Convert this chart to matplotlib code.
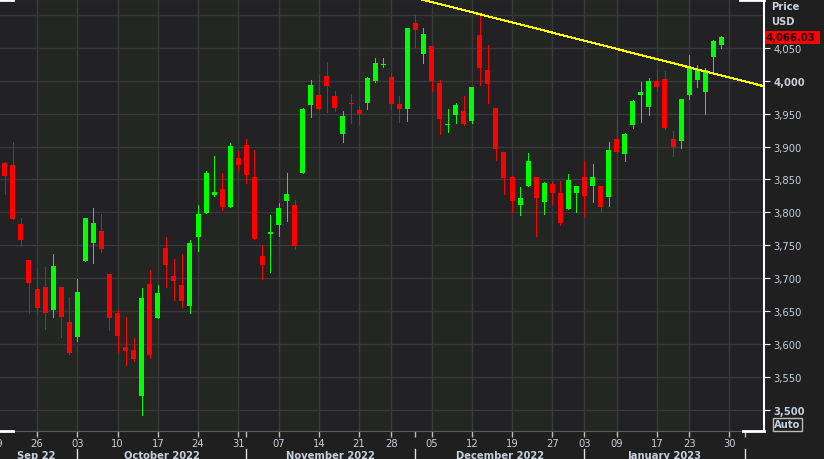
import matplotlib
matplotlib.use("Agg")
import matplotlib.pyplot as plt
import matplotlib.transforms as mtransforms
from matplotlib.patches import Rectangle
from matplotlib.lines import Line2D
import numpy as np
import pandas as pd

# S&P 500 daily candles, Sep 19 2022 - Jan 27 2023 (last one intraday)
dates = [
    "2022-09-19", "2022-09-20", "2022-09-21", "2022-09-22", "2022-09-23",
    "2022-09-26", "2022-09-27", "2022-09-28", "2022-09-29", "2022-09-30",
    "2022-10-03", "2022-10-04", "2022-10-05", "2022-10-06", "2022-10-07",
    "2022-10-10", "2022-10-11", "2022-10-12", "2022-10-13", "2022-10-14",
    "2022-10-17", "2022-10-18", "2022-10-19", "2022-10-20", "2022-10-21",
    "2022-10-24", "2022-10-25", "2022-10-26", "2022-10-27", "2022-10-28",
    "2022-10-31", "2022-11-01", "2022-11-02", "2022-11-03", "2022-11-04",
    "2022-11-07", "2022-11-08", "2022-11-09", "2022-11-10", "2022-11-11",
    "2022-11-14", "2022-11-15", "2022-11-16", "2022-11-17", "2022-11-18",
    "2022-11-21", "2022-11-22", "2022-11-23", "2022-11-25",
    "2022-11-28", "2022-11-29", "2022-11-30", "2022-12-01", "2022-12-02",
    "2022-12-05", "2022-12-06", "2022-12-07", "2022-12-08", "2022-12-09",
    "2022-12-12", "2022-12-13", "2022-12-14", "2022-12-15", "2022-12-16",
    "2022-12-19", "2022-12-20", "2022-12-21", "2022-12-22", "2022-12-23",
    "2022-12-27", "2022-12-28", "2022-12-29", "2022-12-30",
    "2023-01-03", "2023-01-04", "2023-01-05", "2023-01-06",
    "2023-01-09", "2023-01-10", "2023-01-11", "2023-01-12", "2023-01-13",
    "2023-01-17", "2023-01-18", "2023-01-19", "2023-01-20",
    "2023-01-23", "2023-01-24", "2023-01-25", "2023-01-26", "2023-01-27",
]
opens = [
    3849.91, 3875.23, 3871.40, 3782.36, 3727.14, 3682.72, 3686.44, 3651.94, 3687.01, 3633.48,
    3609.78, 3726.46, 3753.25, 3771.97, 3706.74, 3647.51, 3595.86, 3590.83, 3520.37, 3690.41,
    3638.65, 3746.26, 3703.11, 3689.05, 3657.10, 3762.01, 3799.44, 3825.97, 3834.69, 3808.26,
    3881.85, 3901.79, 3852.90, 3733.25, 3766.98, 3780.71, 3817.02, 3810.94, 3859.89, 3963.72,
    3977.97, 4006.41, 3976.82, 3919.26, 3966.39, 3956.23, 3965.51, 4000.30, 4023.34,
    4005.36, 3964.19, 3957.18, 4087.14, 4040.17, 4052.02, 3996.63, 3933.28, 3947.79, 3954.17,
    3939.29, 4069.38, 4015.54, 3958.37, 3890.91, 3853.79, 3810.47, 3839.49, 3853.26, 3815.11,
    3843.34, 3829.56, 3805.45, 3829.06, 3853.29, 3840.36, 3839.74, 3823.37,
    3910.82, 3888.57, 3932.35, 3977.57, 3960.60, 3999.28, 4002.25, 3911.84, 3909.04,
    3978.14, 4001.74, 3982.71, 4036.08, 4053.72,
]
highs = [
    3900.45, 3876.01, 3907.07, 3790.78, 3727.14, 3715.67, 3717.53, 3736.74, 3687.01, 3671.44,
    3698.35, 3791.92, 3806.91, 3797.93, 3706.74, 3652.17, 3640.66, 3608.34, 3685.41, 3712.00,
    3689.73, 3762.79, 3728.58, 3736.00, 3757.89, 3810.74, 3862.85, 3886.15, 3859.95, 3905.42,
    3893.73, 3911.79, 3894.44, 3750.59, 3796.34, 3813.95, 3859.40, 3818.20, 3958.33, 4001.48,
    4008.97, 4028.84, 3983.96, 3954.33, 3979.89, 3962.00, 4005.88, 4033.78, 4034.02,
    4012.27, 3976.77, 4080.11, 4100.51, 4080.48, 4052.45, 4001.51, 3957.57, 3966.64, 3977.02,
    3990.71, 4100.96, 4053.76, 3958.37, 3890.91, 3854.86, 3838.24, 3889.82, 3853.26, 3845.80,
    3846.65, 3848.32, 3858.19, 3839.85, 3878.46, 3873.16, 3839.74, 3906.19,
    3950.57, 3919.83, 3970.07, 3997.76, 4003.95, 4015.39, 4014.16, 3922.94, 3972.96,
    4039.31, 4023.92, 4019.55, 4061.57, 4068.00,
]
lows = [
    3838.50, 3827.54, 3789.49, 3749.45, 3647.47, 3644.76, 3623.29, 3640.61, 3610.40, 3584.13,
    3604.93, 3726.46, 3722.66, 3739.22, 3620.73, 3588.10, 3568.45, 3573.86, 3491.58, 3578.27,
    3638.65, 3686.53, 3666.51, 3656.53, 3647.42, 3741.65, 3799.44, 3824.07, 3803.79, 3808.26,
    3863.18, 3843.80, 3758.68, 3698.15, 3708.84, 3764.70, 3786.28, 3744.22, 3859.89, 3944.82,
    3956.40, 3953.17, 3954.34, 3906.54, 3935.98, 3933.34, 3956.88, 3998.66, 4020.76,
    3955.77, 3937.65, 3938.58, 4050.87, 4026.63, 3984.49, 3918.39, 3922.68, 3935.83, 3933.04,
    3935.30, 3993.03, 3965.65, 3879.45, 3827.91, 3800.04, 3795.62, 3839.49, 3764.49, 3797.01,
    3813.22, 3780.78, 3805.45, 3800.34, 3794.33, 3815.77, 3802.42, 3809.56,
    3890.42, 3877.29, 3928.54, 3937.56, 3947.67, 3984.57, 3926.59, 3885.54, 3897.86,
    3971.64, 3989.79, 3949.06, 4013.29, 4049.27,
]
closes = [
    3899.89, 3855.93, 3789.93, 3757.99, 3693.23, 3655.04, 3647.29, 3719.04, 3640.47, 3585.62,
    3678.43, 3790.93, 3783.28, 3744.52, 3639.66, 3612.39, 3588.84, 3577.03, 3669.91, 3583.07,
    3677.95, 3719.98, 3695.16, 3665.78, 3752.75, 3797.34, 3859.11, 3830.60, 3807.30, 3901.06,
    3871.98, 3856.10, 3759.69, 3719.89, 3770.55, 3806.80, 3828.11, 3748.57, 3956.37, 3992.93,
    3957.25, 3991.73, 3958.79, 3946.56, 3965.34, 3949.94, 4003.58, 4027.26, 4026.12,
    3963.94, 3957.63, 4080.11, 4076.57, 4071.70, 3998.84, 3941.26, 3933.92, 3963.51, 3934.38,
    3990.56, 4019.65, 3995.32, 3895.75, 3852.36, 3817.66, 3821.62, 3878.44, 3822.39, 3844.82,
    3829.25, 3783.22, 3849.28, 3839.50, 3824.14, 3852.97, 3808.10, 3895.08,
    3892.09, 3919.25, 3969.61, 3983.17, 3999.09, 3990.97, 3928.86, 3898.85, 3972.61,
    4019.81, 4016.95, 4016.22, 4060.43, 4066.03,
]
holidays = ["2022-11-24", "2022-12-26", "2023-01-02", "2023-01-16"]
last_price = 4066.03
trend_dates = ["2022-11-30", "2023-02-03"]
trend_prices = [4129.0, 3992.5]
price_ticks = list(range(3500, 4051, 50))
bold_ticks = [3500, 4000]

BG = "#222224"
BAND = "#242623"
GRID = "#393939"
TXT = "#c6cfdc"
UP, DOWN = "#00ff00", "#ff0000"
FS = 7.2
ONE_PX = 0.72  # points for a 1 px line at 100 dpi

plt.rcParams["font.family"] = "DejaVu Sans"

# trading-day axis (no weekends / holidays), a week past the data
cal = pd.bdate_range("2022-09-19", "2023-02-03", freq="C", holidays=holidays)
pos = {d.strftime("%Y-%m-%d"): i for i, d in enumerate(cal)}
x = np.array([pos[d] for d in dates])
o, h, l, c = map(np.array, (opens, highs, lows, closes))

week_start = [i for i, d in enumerate(cal)
              if i == 0 or d.isocalendar()[1] != cal[i - 1].isocalendar()[1]]
month_start = [i for i, d in enumerate(cal) if i > 0 and d.month != cal[i - 1].month]

fig = plt.figure(figsize=(8.24, 4.6), dpi=100, facecolor="#1f1f1f")
ax = fig.add_axes([0, 1 - 432 / 460, 764 / 824, 432 / 460], facecolor=BG)
x0, x1 = 0.4, 95.3
ax.set_xlim(x0, x1)
ax.set_ylim(3467.6, 4124.2)

# alternate week shading
for k in range(1, len(week_start) - 1, 2):
    ax.axvspan(week_start[k], week_start[k + 1], color=BAND, lw=0, zorder=0)

for xi in week_start:
    ax.axvline(xi, color=GRID, lw=1, zorder=1)
for p in price_ticks + [4100]:
    ax.axhline(p, color=GRID, lw=1, zorder=1)

# candles
up = c >= o
cols = np.where(up, UP, DOWN)
ax.vlines(x, l, h, colors=cols, lw=ONE_PX, zorder=3, antialiased=False)
body_lo = np.minimum(o, c)
body_h = np.maximum(np.abs(c - o), 1.5)
ax.bar(x, body_h, 0.62, bottom=body_lo, color=cols, lw=0, zorder=4, antialiased=False)

ax.plot([pos[d] for d in trend_dates], trend_prices, color="#ffff00", lw=ONE_PX, zorder=5,
        antialiased=False)

# y axis on the right
ax.yaxis.tick_right()
ax.set_yticks(price_ticks)
ax.set_yticklabels([f"{p:,}" for p in price_ticks])
ax.tick_params(axis="y", colors="white", labelcolor=TXT, labelsize=FS, length=4, pad=3)
for t, p in zip(ax.get_yticklabels(), price_ticks):
    if p in bold_ticks:
        t.set_fontweight("bold")

# x axis: weekly ticks, month ticks
vis_weeks = [i for i in week_start if x0 <= i <= x1]
ax.set_xticks(vis_weeks)
ax.set_xticklabels([])
ax.set_xticks([i for i in month_start if x0 <= i <= x1], minor=True)
ax.tick_params(axis="x", which="both", colors="#bbbbbb", length=4, width=1)

ax.spines["left"].set_visible(False)
ax.spines["right"].set_color("white")
ax.spines["right"].set_linewidth(1.5)
ax.spines["bottom"].set_color("#5a5a5a")
ax.spines["top"].set_color("#505050")

tx = mtransforms.blended_transform_factory(ax.transData, fig.transFigure)
for i in week_start:
    ax.text(i, 1 - 447 / 460, f"{cal[i].day:02d}", transform=tx, color=TXT,
            fontsize=FS, ha="center", va="baseline", clip_on=False)

month_names = ["Sep 22", "October 2022", "November 2022", "December 2022", "January 2023"]
edges = [x0 - 0.6] + month_start
for k, name in enumerate(month_names):
    mid = (edges[k] + edges[k + 1]) / 2
    ax.text(mid, 0.002, name, transform=tx, color=TXT, fontsize=FS,
            fontweight="bold", ha="center", va="baseline", clip_on=False)
for i in month_start:
    ax.add_line(Line2D([i, i], [1 - 450 / 460, 0], transform=tx, color="#e0e0e0",
                       lw=1, clip_on=False))


def px(xp, yp):
    return xp / 824, 1 - yp / 460


# small white range markers on the frame
for xa, xb, yp in [(0, 13, 0.5), (0, 13, 432), (740, 764, 0.5), (743, 764, 432)]:
    fig.add_artist(Line2D([xa / 824, xb / 824], [1 - yp / 460] * 2,
                          transform=fig.transFigure, color="white", lw=2))

# header and last-price box
fig.text(*px(771, 7.5), "Price", color=TXT, fontsize=FS, fontweight="bold", va="center")
fig.text(*px(771, 22), "USD", color=TXT, fontsize=FS, fontweight="bold", va="center")
yb = ax.transData.transform((0, last_price))[1] / fig.bbox.height
fig.add_artist(Rectangle((765 / 824, yb - 6.5 / 460), 55 / 824, 13 / 460,
                         transform=fig.transFigure, color="#ff0000", lw=0))
fig.text(766 / 824, yb, f"{last_price:,.2f}", color="#1a0000", fontsize=FS,
         fontweight="bold", va="center", ha="left")

fig.text(*px(774, 425), "Auto", color=TXT, fontsize=FS, fontweight="bold", va="center",
         bbox=dict(boxstyle="square,pad=0.15", facecolor="#1f1f1f", edgecolor="#bbbbbb", lw=1))

fig.savefig("out.png", dpi=100, facecolor=fig.get_facecolor())
